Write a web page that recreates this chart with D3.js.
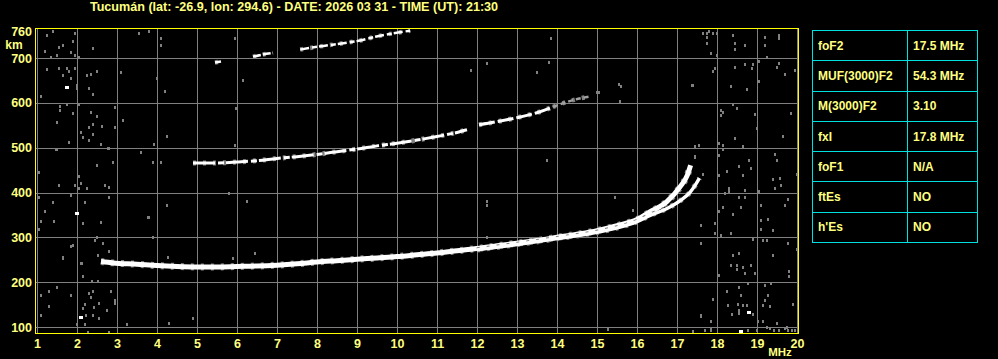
<!DOCTYPE html>
<html lang="es">
<head>
    <meta charset="UTF-8">
    <title>Ionograma Tucumán</title>
    <style>
        html, body { margin: 0; padding: 0; background: #000; }
        body { font-family: "Liberation Sans", Arial, sans-serif; }
        #chart { width: 998px; height: 359px; }
        text { font-weight: bold; fill: #ffff80; }
    </style>
    <script src="https://d3js.org/d3.v7.min.js"></script>
</head>
<body>
    <div id="chart"></div>

    <script>
        // ---- data ----
        const titleText = "Tucumán (lat: -26.9, lon: 294.6) - DATE: 2026 03 31 - TIME (UT): 21:30";

        const freqTicks = d3.range(1, 21);                       // MHz
        const heightTicks = [100, 200, 300, 400, 500, 600, 700];  // km
        const heightTop = 760;

        // F trace, ordinary mode
        const oFreq   = [2.6, 2.9, 3.5, 4.0, 4.5, 5.0, 5.5, 6.0, 6.5, 7.0, 7.5, 8.0, 8.5, 9.0, 9.5, 10.0, 10.5, 11.0, 11.5, 12.0, 12.5, 13.0, 13.5, 14.0, 14.5, 15.0, 15.5, 16.0, 16.33, 16.74, 17.08, 17.25, 17.34];
        const oHeight = [246, 243, 240, 237, 235, 234, 234, 235, 236, 238, 241, 245, 248, 251, 254, 257, 261, 265, 270, 275, 281, 287, 293, 300, 307, 315, 326, 340, 357, 379, 413, 437, 461];
        // F trace, extraordinary mode
        const xFreq   = [12.0, 13.0, 14.0, 15.0, 15.5, 16.0, 16.33, 16.74, 17.08, 17.33, 17.46, 17.56];
        const xHeight = [272, 284, 297, 311, 321, 335, 349, 364, 382, 401, 417, 432];

        // second hop (2F), pieces
        const f2aFreq   = [4.9, 5.5, 6.0, 6.5, 7.0, 7.5, 8.0, 8.5, 9.0, 9.5, 10.0, 10.5, 11.0, 11.5, 11.75];
        const f2aHeight = [466, 466, 468, 471, 476, 480, 485, 491, 497, 504, 510, 517, 525, 534, 540];
        const f2bFreq   = [12.05, 12.5, 13.0, 13.5, 13.9];
        const f2bHeight = [551, 558, 567, 578, 591];
        const f2cFreq   = [13.9, 14.4, 14.8];
        const f2cHeight = [591, 606, 614];

        // third hop (3F)
        const f3aFreq   = [5.45, 5.6];
        const f3aHeight = [690, 692];
        const f3bFreq   = [6.4, 6.6, 6.9];
        const f3bHeight = [703, 707, 711];
        const f3cFreq   = [7.58, 8.16, 8.66, 9.08, 9.49, 9.91, 10.33];
        const f3cHeight = [719, 727, 733, 739, 748, 755, 761];

        // interference specks [MHz, km]
        const noiseGray = [
            [1.25,752],[1.39,761],[1.95,756],[1.89,737],[1.64,730],[1.54,725],[1.2,716],[1.5,707],[1.85,713],[1.95,707],
            [1.35,702],[2.39,722],[2.04,702],[3.54,756],[3.79,761],[4.1,745],[4.1,730],[1.25,676],[1.54,678],[1.74,678],
            [1.79,670],[1.64,661],[1.85,655],[1.95,678],[1.99,640],[1.99,633],[2.24,663],[2.35,664],[2.49,672],[2.29,633],
            [2.39,620],[1.1,616],[3.1,669],[4.0,655],[4.2,626],[1.58,593],[1.58,585],[1.75,597],[1.89,577],[2.04,597],
            [1.5,557],[2.35,580],[2.49,570],[2.62,549],[2.39,553],[2.95,590],[2.95,545],[3.14,562],[2.14,523],[2.29,516],
            [2.39,530],[2.6,508],[1.79,513],[1.5,498],[2.79,499],[3.93,508],[3.6,490],[3.89,468],[4.1,468],[2.91,468],
            [2.49,461],[1.04,446],[2.04,436],[2.1,421],[2.04,411],[1.54,417],[1.95,417],[2.24,409],[2.7,417],[2.79,413],
            [1.85,395],[1.04,390],[1.39,379],[2.2,379],[2.79,390],[1.21,358],[1.1,337],[1.43,337],[2.14,332],[2.6,334],
            [1.04,319],[3.79,345],[3.89,300],[2.49,300],[2.44,293],[2.64,287],[1.89,282],[2.79,270],[1.64,255],[2.52,261],
            [2.1,243],[2.14,213],[2.37,203],[2.52,203],[1.5,190],[1.31,180],[1.1,172],[1.85,172],[2.85,181],[2.29,176],
            [2.35,168],[2.39,180],[2.21,151],[2.54,154],[2.43,144],[2.14,142],[2.95,161],[2.95,154],[2.74,139],[1.1,127],
            [1.31,147],[2.22,127],[2.39,126],[2.56,120],[2.21,107],[1.99,107],[3.24,107],[2.27,89],[2.79,89],
            [4.3,109],[4.9,120],[3.25,107],[15.28,96],[17.4,90],[17.85,96],[17.6,127],
            [13.74,472],[15.45,391],[15.9,361],[12.24,382],[12.24,372],[12.24,301],[14.99,625],[15.06,625],[15.55,642],
            [15.6,637],[15.57,605],[17.38,640],[17.45,502],[17.45,480],[5.95,744],[6.14,651],[5.98,588],[11.84,673],
            [12.24,688],[13.49,669],[13.8,692],[13.84,744],[1.47,496],[1.81,513],[2.1,535],[2.3,545],[2.6,508],[2.78,499],
            [4.24,526],[3.59,491],[5.95,506],[6.24,382],[5.8,400],[4.24,372],[3.78,346],[3.91,301],[1.64,257],[1.85,280],
            [5.91,253],[6.45,266],[2.12,243],[4.28,257],
            [17.64,756],[17.74,756],[17.8,761],[17.89,756],[17.99,756],[17.74,746],[17.74,733],[17.84,711],[17.99,707],
            [18.39,752],[18.45,733],[18.45,721],[18.7,730],[19.2,746],[19.2,730],[19.55,752],[19.55,745],[19.26,702],
            [17.39,640],[17.95,678],[17.89,670],[18.45,681],[18.7,687],[18.89,687],[18.87,678],[19.06,693],[19.55,689],
            [19.49,681],[19.7,664],[19.95,674],[18.34,637],[18.74,631],[19.06,648],[18.39,597],[18.49,588],[18.09,585],
            [18.14,580],[18.09,572],[18.95,574],[19.01,544],[19.85,577],[18.45,522],[19.64,527],[18.06,510],[18.14,505],
            [18.16,496],[18.64,503],[17.55,505],[17.45,503],[17.45,481],[18.05,483],[19.45,486],[19.49,473],[18.81,473],
            [17.64,441],[18.24,449],[18.56,458],[18.64,438],[18.85,455],[18.05,440],[19.41,429],[19.58,432],[19.6,417],
            [19.45,409],[19.99,441],[18.7,406],[18.31,411],[18.31,404],[18.2,399],[19.05,403],[18.56,389],[18.7,389],
            [19.78,386],[19.7,373],[19.09,373],[18.6,368],[18.14,368],[18.05,359],[18.39,351],[17.95,332],[17.6,327],
            [19.1,339],[19.28,342],[19.39,317],[19.1,319],[18.34,310],[17.95,310],[18.09,306],[18.89,297],[19.14,293],
            [19.26,293],[19.77,287],[17.6,287],[19.99,275],[19.39,261],[18.39,261],[18.56,265],[18.34,238],[18.49,238],
            [18.64,233],[18.84,238],[18.49,230],[18.7,220],[18.95,220],[19.8,224],[19.8,213],[18.05,217],[18.78,198],
            [19.2,194],[19.34,198],[18.56,190],[18.24,180],[18.6,172],[17.89,163],[19.28,172],[19.2,161],[18.28,148],
            [18.52,151],[18.64,148],[18.74,148],[19.14,148],[19.33,146],[19.91,151],[18.56,139],[18.89,129],[17.6,124],
            [18.56,131],[18.37,129],[19.14,114],[19.02,113],[19.49,109],[17.84,113],[17.41,90],[17.7,94],[17.84,94],
            [18.78,94],[19.01,94],[19.26,101],[19.33,98],[19.43,94],[19.56,94],[19.7,98],[19.78,94],[19.87,94],[19.95,94],
            [19.76,101]
        ];
        const noiseWhite = [[1.74,635],[1.99,354],[2.1,123],[18.8,133],[18.59,90]];

        // parameter table
        const paramNames  = ["foF2", "MUF(3000)F2", "M(3000)F2", "fxI", "foF1", "ftEs", "h'Es"];
        const paramValues = ["17.5 MHz", "54.3 MHz", "3.10", "17.8 MHz", "N/A", "NO", "NO"];

        // ---- drawing ----
        const W = 998, H = 359;
        const frame = {left: 36, right: 798, top: 29, bottom: 333};

        const svg = d3.select('#chart').append('svg')
            .attr('width', W)
            .attr('height', H)
            .style('display', 'block')
            .style('background', '#000');

        const x = d3.scaleLinear().domain([1, 20]).range([37, 797]);
        const y = d3.scaleLinear().domain([100, 700]).range([327, 58]);

        // title
        svg.append('text')
            .attr('x', 294)
            .attr('y', 11)
            .attr('text-anchor', 'middle')
            .style('font-size', '12.6px')
            .text(titleText);

        svg.append('defs').append('clipPath').attr('id', 'plotClip')
          .append('rect')
            .attr('x', frame.left).attr('y', frame.top)
            .attr('width', frame.right - frame.left)
            .attr('height', frame.bottom - frame.top);

        // grid
        const grid = svg.append('g').attr('shape-rendering', 'crispEdges');
        grid.append('g')
            .attr('transform', `translate(0, ${frame.bottom})`)
            .call(d3.axisBottom(x).tickValues(freqTicks).tickSize(-(frame.bottom - frame.top)).tickFormat(''))
            .call(g => g.select('.domain').remove())
            .call(g => g.selectAll('line').attr('stroke', '#808080'));
        grid.append('g')
            .attr('transform', `translate(${frame.left}, 0)`)
            .call(d3.axisLeft(y).tickValues(heightTicks).tickSize(-(frame.right - frame.left)).tickFormat(''))
            .call(g => g.select('.domain').remove())
            .call(g => g.selectAll('line').attr('stroke', '#808080'));

        const plot = svg.append('g').attr('clip-path', 'url(#plotClip)');

        // noise specks
        plot.append('g').attr('shape-rendering', 'crispEdges')
            .selectAll('rect')
            .data(noiseGray)
            .enter().append('rect')
              .attr('x', d => Math.round(x(d[0])) - 1)
              .attr('y', d => Math.round(y(d[1])) - 1)
              .attr('width', 2)
              .attr('height', 3)
              .attr('fill', '#808080');

        plot.append('g').attr('shape-rendering', 'crispEdges')
            .selectAll('rect')
            .data(noiseWhite)
            .enter().append('rect')
              .attr('x', d => Math.round(x(d[0])) - 2)
              .attr('y', d => Math.round(y(d[1])) - 1)
              .attr('width', 4)
              .attr('height', 3)
              .attr('fill', '#ffffff');

        // traces
        const line = d3.line()
            .x(d => x(d[0]))
            .y(d => y(d[1]))
            .curve(d3.curveMonotoneX);

        function trace(fs, hs, width, color, dash) {
            const pts = fs.map((f, i) => [f, hs[i]]);
            // ragged grey fringe
            plot.append('path')
                .datum(pts)
                .attr('d', line)
                .attr('fill', 'none')
                .attr('stroke', '#808080')
                .attr('stroke-width', width + 2)
                .attr('stroke-dasharray', '3,7');
            plot.append('path')
                .datum(pts)
                .attr('d', line)
                .attr('fill', 'none')
                .attr('stroke', color)
                .attr('stroke-width', width)
                .attr('stroke-dasharray', dash || null);
        }

        trace(oFreq, oHeight, 5, '#ffffff');
        trace(xFreq, xHeight, 3.4, '#ffffff');
        trace(f2aFreq, f2aHeight, 3, '#ffffff', '22,3,6,2');
        trace(f2bFreq, f2bHeight, 3, '#ffffff', '16,3');
        trace(f2cFreq, f2cHeight, 2.5, '#a0a0a0', '5,3');
        trace(f3aFreq, f3aHeight, 2.5, '#ffffff');
        trace(f3bFreq, f3bHeight, 2.5, '#ffffff', '8,2');
        trace(f3cFreq, f3cHeight, 2.5, '#ffffff', '9,3,5,2');

        // frame
        svg.append('rect')
            .attr('x', frame.left - 0.5)
            .attr('y', frame.top - 0.5)
            .attr('width', frame.right - frame.left + 1)
            .attr('height', frame.bottom - frame.top + 1)
            .attr('fill', 'none')
            .attr('stroke', '#ffff00')
            .attr('stroke-width', 1.5)
            .attr('shape-rendering', 'crispEdges');

        // axis labels
        svg.append('g')
            .attr('transform', `translate(0, ${frame.bottom})`)
            .call(d3.axisBottom(x).tickValues(freqTicks).tickSize(0).tickPadding(6).tickFormat(d3.format('d')))
            .call(g => g.select('.domain').remove())
            .call(g => g.selectAll('text').attr('fill', '#ffff80').style('font-size', '12.5px').style('font-family', null));

        svg.append('g')
            .attr('transform', `translate(${frame.left - 4}, 0)`)
            .call(d3.axisLeft(y).tickValues(heightTicks.concat([heightTop])).tickSize(0).tickPadding(0).tickFormat(d3.format('d')))
            .call(g => g.select('.domain').remove())
            .call(g => g.selectAll('text').attr('fill', '#ffff80').style('font-size', '12.5px').style('font-family', null));

        svg.append('text')
            .attr('x', 14)
            .attr('y', 49)
            .attr('text-anchor', 'middle')
            .style('font-size', '12px')
            .text('km');

        svg.append('text')
            .attr('x', 780)
            .attr('y', 356)
            .attr('text-anchor', 'middle')
            .style('font-size', '11.5px')
            .text('MHz');

        // parameter table
        const table = svg.append('g').attr('shape-rendering', 'crispEdges');
        const rows = d3.scaleBand().domain(d3.range(paramNames.length)).range([30, 242]);
        const tLeft = 812, tMid = 907, tRight = 977;

        table.append('rect')
            .attr('x', tLeft + 0.5).attr('y', 30.5)
            .attr('width', tRight - tLeft).attr('height', 212)
            .attr('fill', 'none').attr('stroke', '#00e0e0');
        table.selectAll('line.row')
            .data(d3.range(1, paramNames.length))
            .enter().append('line')
              .attr('class', 'row')
              .attr('x1', tLeft).attr('x2', tRight)
              .attr('y1', i => Math.round(rows(i)) + 0.5).attr('y2', i => Math.round(rows(i)) + 0.5)
              .attr('stroke', '#00e0e0');
        table.append('line')
            .attr('x1', tMid + 0.5).attr('x2', tMid + 0.5)
            .attr('y1', 30).attr('y2', 242)
            .attr('stroke', '#00e0e0');

        table.selectAll('text.name')
            .data(paramNames)
            .enter().append('text')
              .attr('class', 'name')
              .attr('x', tLeft + 6)
              .attr('y', (d, i) => rows(i) + rows.bandwidth() / 2 + 4.5)
              .style('font-size', '12px')
              .text(d => d);
        table.selectAll('text.value')
            .data(paramValues)
            .enter().append('text')
              .attr('class', 'value')
              .attr('x', tMid + 6)
              .attr('y', (d, i) => rows(i) + rows.bandwidth() / 2 + 4.5)
              .style('font-size', '12px')
              .text(d => d);
    </script>
</body>
</html>
